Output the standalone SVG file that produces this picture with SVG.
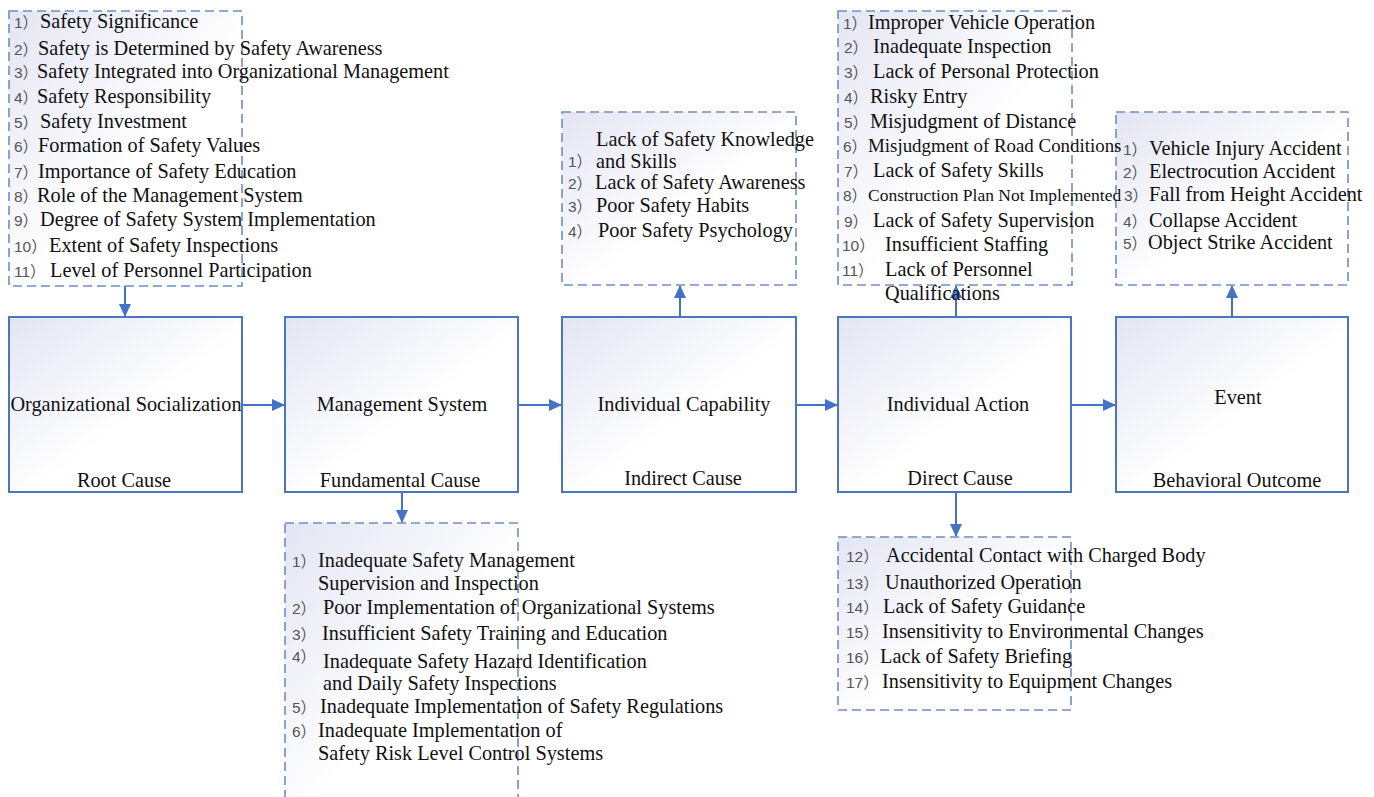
<svg xmlns="http://www.w3.org/2000/svg" width="1374" height="797" viewBox="0 0 1374 797">
<defs>
<linearGradient id="g" x1="0" y1="0" x2="1" y2="1">
<stop offset="0" stop-color="#e3e5f3"/>
<stop offset="0.55" stop-color="#ffffff"/>
<stop offset="1" stop-color="#ffffff"/>
</linearGradient>
<marker id="ah" markerUnits="userSpaceOnUse" markerWidth="14" markerHeight="14" refX="12" refY="7" orient="auto">
<path d="M0,1 L13,7 L0,13 Z" fill="#4472c4"/>
</marker>
<style>
.box{fill:url(#g);stroke:#4a76c0;stroke-width:2}
.dash{fill:url(#g);stroke:#6f8dc6;stroke-width:1.6;stroke-dasharray:9 5}
.t{font-family:"Liberation Serif","Times New Roman",serif;font-size:20.3px;fill:#111}
.c{text-anchor:middle}
.n{font-family:"Liberation Sans","Noto Sans CJK SC",sans-serif;font-size:15.5px;fill:#555}
.conn{stroke:#4472c4;stroke-width:2;fill:none;marker-end:url(#ah)}
</style>
</defs>
<rect width="1374" height="797" fill="#ffffff"/>

<g id="connectors">
<line class="conn" x1="125" y1="286" x2="125" y2="316"/>
<line class="conn" x1="242" y1="405" x2="284" y2="405"/>
<line class="conn" x1="518" y1="405" x2="561" y2="405"/>
<line class="conn" x1="796" y1="405" x2="837" y2="405"/>
<line class="conn" x1="1071" y1="405" x2="1115" y2="405"/>
<line class="conn" x1="402" y1="492" x2="402" y2="522"/>
<line class="conn" x1="680" y1="317" x2="680" y2="286"/>
<line class="conn" x1="956" y1="317" x2="956" y2="286"/>
<line class="conn" x1="956" y1="492" x2="956" y2="536"/>
<line class="conn" x1="1232" y1="317" x2="1232" y2="286"/>
</g>

<g id="node-root">
<rect class="box" x="9" y="317" width="233" height="175"/>
<text class="t c" x="126" y="411">Organizational Socialization</text>
<text class="t c" x="124" y="487">Root Cause</text>
</g>
<g id="node-management">
<rect class="box" x="285" y="317" width="233" height="175"/>
<text class="t c" x="402" y="411">Management System</text>
<text class="t c" x="400" y="487">Fundamental Cause</text>
</g>
<g id="node-capability">
<rect class="box" x="562" y="317" width="234" height="175"/>
<text class="t c" x="684" y="411">Individual Capability</text>
<text class="t c" x="683" y="485">Indirect Cause</text>
</g>
<g id="node-action">
<rect class="box" x="838" y="317" width="233" height="175"/>
<text class="t c" x="958" y="411">Individual Action</text>
<text class="t c" x="960" y="485">Direct Cause</text>
</g>
<g id="node-event">
<rect class="box" x="1116" y="317" width="232" height="175"/>
<text class="t c" x="1238" y="404">Event</text>
<text class="t c" x="1237" y="487">Behavioral Outcome</text>
</g>

<g id="list-root">
<rect class="dash" x="9" y="11" width="233" height="275"/>
<text class="n" x="14" y="28">1）</text><text class="t" x="40" y="28">Safety Significance</text>
<text class="n" x="14" y="55">2）</text><text class="t" x="38" y="55">Safety is Determined by Safety Awareness</text>
<text class="n" x="14" y="78">3）</text><text class="t" x="37" y="78">Safety Integrated into Organizational Management</text>
<text class="n" x="14" y="103">4）</text><text class="t" x="37" y="103">Safety Responsibility</text>
<text class="n" x="14" y="128">5）</text><text class="t" x="40" y="128">Safety Investment</text>
<text class="n" x="14" y="152">6）</text><text class="t" x="38" y="152">Formation of Safety Values</text>
<text class="n" x="14" y="178">7）</text><text class="t" x="38" y="178">Importance of Safety Education</text>
<text class="n" x="14" y="202">8）</text><text class="t" x="37" y="202">Role of the Management System</text>
<text class="n" x="14" y="226">9）</text><text class="t" x="40" y="226">Degree of Safety System Implementation</text>
<text class="n" x="14" y="252">10）</text><text class="t" x="49" y="252">Extent of Safety Inspections</text>
<text class="n" x="14" y="277">11）</text><text class="t" x="50" y="277">Level of Personnel Participation</text>
</g>

<g id="list-management">
<rect class="dash" x="285" y="523" width="233" height="290"/>
<text class="n" x="292" y="567">1）</text><text class="t" x="318" y="567">Inadequate Safety Management</text>
<text class="t" x="318" y="590">Supervision and Inspection</text>
<text class="n" x="292" y="614">2）</text><text class="t" x="323" y="614">Poor Implementation of Organizational Systems</text>
<text class="n" x="292" y="640">3）</text><text class="t" x="322" y="640">Insufficient Safety Training and Education</text>
<text class="n" x="292" y="662">4）</text><text class="t" x="323" y="668">Inadequate Safety Hazard Identification</text>
<text class="t" x="323" y="690">and Daily Safety Inspections</text>
<text class="n" x="292" y="713">5）</text><text class="t" x="320" y="713">Inadequate Implementation of Safety Regulations</text>
<text class="n" x="292" y="737">6）</text><text class="t" x="318" y="737">Inadequate Implementation of</text>
<text class="t" x="318" y="760">Safety Risk Level Control Systems</text>
</g>

<g id="list-capability">
<rect class="dash" x="562" y="112" width="234" height="173"/>
<text class="t" x="596" y="146">Lack of Safety Knowledge</text>
<text class="n" x="568" y="167">1）</text><text class="t" x="596" y="168">and Skills</text>
<text class="n" x="568" y="189">2）</text><text class="t" x="595" y="189">Lack of Safety Awareness</text>
<text class="n" x="568" y="212">3）</text><text class="t" x="596" y="212">Poor Safety Habits</text>
<text class="n" x="568" y="237">4）</text><text class="t" x="598" y="237">Poor Safety Psychology</text>
</g>

<g id="list-event">
<rect class="dash" x="1116" y="112" width="232" height="173"/>
<text class="n" x="1123" y="155">1）</text><text class="t" x="1149" y="155">Vehicle Injury Accident</text>
<text class="n" x="1123" y="178">2）</text><text class="t" x="1149" y="178">Electrocution Accident</text>
<text class="n" x="1124" y="201">3）</text><text class="t" x="1149" y="201">Fall from Height Accident</text>
<text class="n" x="1123" y="227">4）</text><text class="t" x="1149" y="227">Collapse Accident</text>
<text class="n" x="1123" y="249">5）</text><text class="t" x="1148" y="249">Object Strike Accident</text>
</g>

<g id="list-action-top">
<rect class="dash" x="838" y="11" width="234" height="274"/>
<text class="n" x="843" y="29">1）</text><text class="t" x="868" y="29">Improper Vehicle Operation</text>
<text class="n" x="844" y="53">2）</text><text class="t" x="873" y="53">Inadequate Inspection</text>
<text class="n" x="844" y="78">3）</text><text class="t" x="873" y="78">Lack of Personal Protection</text>
<text class="n" x="844" y="103">4）</text><text class="t" x="870" y="103">Risky Entry</text>
<text class="n" x="844" y="128">5）</text><text class="t" x="870" y="128">Misjudgment of Distance</text>
<text class="n" x="843" y="152">6）</text><text class="t" x="868" y="152" style="font-size:18.9px">Misjudgment of Road Conditions</text>
<text class="n" x="844" y="177">7）</text><text class="t" x="873" y="177">Lack of Safety Skills</text>
<text class="n" x="843" y="201">8）</text><text class="t" x="868" y="201" style="font-size:17.5px">Construction Plan Not Implemented</text>
<text class="n" x="844" y="227">9）</text><text class="t" x="873" y="227">Lack of Safety Supervision</text>
<text class="n" x="842" y="251">10）</text><text class="t" x="885" y="251">Insufficient Staffing</text>
<text class="n" x="842" y="276">11）</text><text class="t" x="885" y="276">Lack of Personnel</text>
<text class="t" x="885" y="300">Qualifications</text>
</g>

<g id="list-action-bottom">
<rect class="dash" x="838" y="537" width="233" height="173"/>
<text class="n" x="846" y="562">12）</text><text class="t" x="886" y="562">Accidental Contact with Charged Body</text>
<text class="n" x="846" y="589">13）</text><text class="t" x="885" y="589">Unauthorized Operation</text>
<text class="n" x="846" y="613">14）</text><text class="t" x="883" y="613">Lack of Safety Guidance</text>
<text class="n" x="846" y="638">15）</text><text class="t" x="882" y="638">Insensitivity to Environmental Changes</text>
<text class="n" x="846" y="663">16）</text><text class="t" x="880" y="663">Lack of Safety Briefing</text>
<text class="n" x="846" y="688">17）</text><text class="t" x="882" y="688">Insensitivity to Equipment Changes</text>
</g>
</svg>
